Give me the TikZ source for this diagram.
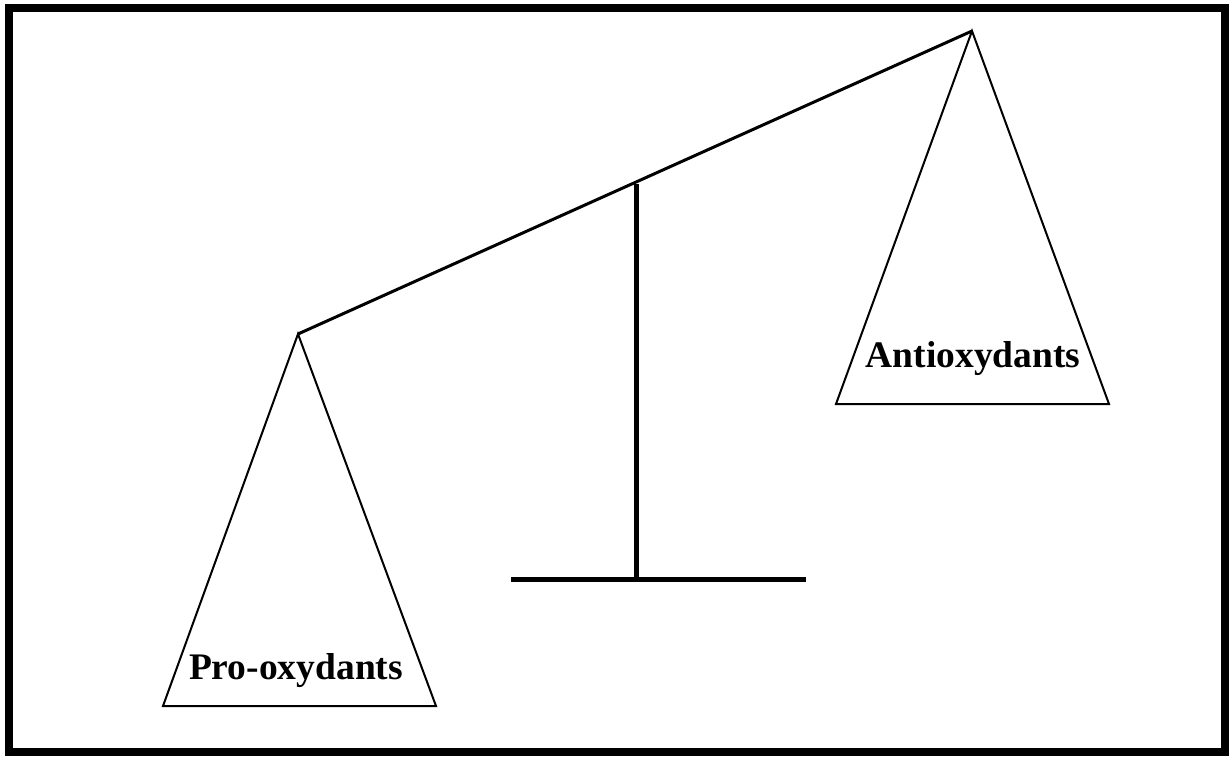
\documentclass[tikz,border=0pt]{standalone}
\usepackage{fontspec}
\setmainfont{Liberation Serif}
\tikzset{
  frameline/.style={line width=8pt},
  beamline/.style={line width=3pt},
  panline/.style={line width=2pt, line join=miter},
  postline/.style={line width=5pt},
  panlabel/.style={font=\fontsize{37.5}{40}\selectfont\bfseries, anchor=base, inner sep=0pt}
}
\begin{document}
\begin{tikzpicture}[x=1pt,y=-1pt]
  \useasboundingbox (0,0) rectangle (1229,756);
  % outer frame
  \draw[frameline] (9,8) rectangle (1225,752);
  % pan apexes and pan corners
  \coordinate (lapex) at (298,334);
  \coordinate (rapex) at (972,31);
  \coordinate (lbl) at (163,706);
  \coordinate (lbr) at (436,706);
  \coordinate (rbl) at (836,404);
  \coordinate (rbr) at (1109,404);
  % stand
  \coordinate (ptop) at (636,184);
  \coordinate (pbot) at (636,579);
  \coordinate (bl) at (511,579);
  \coordinate (br) at (806,579);
  \draw[postline] (ptop) -- (pbot);
  \draw[postline] (bl) -- (br);
  % tilted beam
  \draw[beamline] (lapex) -- (rapex);
  % pans
  \draw[panline] (lapex) -- (lbl) -- (lbr) -- cycle;
  \draw[panline] (rapex) -- (rbl) -- (rbr) -- cycle;
  % labels
  \node[panlabel] (pro) at (296,679) {Pro-oxydants};
  \node[panlabel] (anti) at (973,367) {Antioxydants};
\end{tikzpicture}
\end{document}
